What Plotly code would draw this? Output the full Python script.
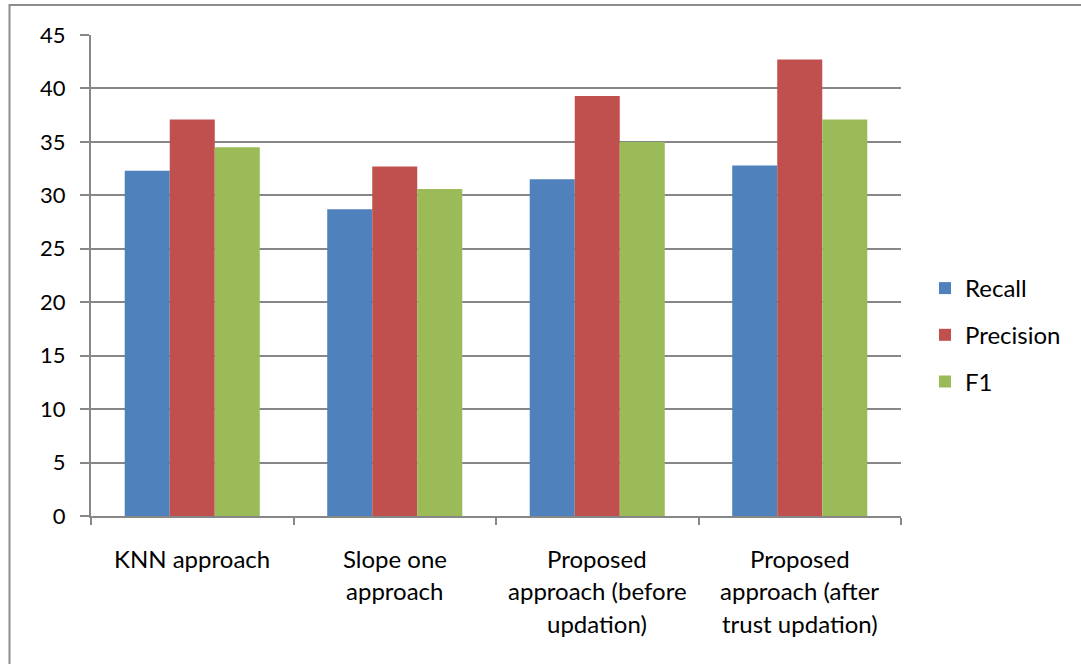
import plotly.graph_objects as go

# Evaluation results per approach
categories = [
    "KNN approach",
    "Slope one<br>approach",
    "Proposed<br>approach (before<br>updation)",
    "Proposed<br>approach (after<br>trust updation)",
]
recall = [32.3, 28.7, 31.5, 32.8]
precision = [37.1, 32.7, 39.3, 42.7]
f1 = [34.5, 30.6, 35.0, 37.1]

series = [
    ("Recall", recall, "#4F81BD"),
    ("Precision", precision, "#C0504D"),
    ("F1", f1, "#9BBB59"),
]

FONT = "Lato"
GRID = "#878787"

W, H = 1081, 664
L, R, T, B = 91, 180, 35, 148
PW, PH = W - L - R, H - T - B

fig = go.Figure()
for name, vals, color in series:
    fig.add_trace(go.Bar(
        name=name, x=categories, y=vals,
        marker=dict(color=color, line=dict(width=0)),
        legendgroup=name,
    ))

# Category labels, one annotation per text line
annotations = []
for i, label in enumerate(categories):
    for j, line in enumerate(label.split("<br>")):
        annotations.append(dict(
            x=i, y=0, xref="x", yref="y", text=line, showarrow=False,
            yanchor="middle", xanchor="center",
            yshift=-(42 + 32.5 * j),
            font=dict(family=FONT, size=24, color="#000000"),
        ))

# Outer frame around the chart area
px = lambda v: (v - L) / PW
py = lambda v: (H - B - v) / PH
shapes = [dict(
    type="rect", xref="paper", yref="paper",
    x0=px(9.5), x1=px(1100), y0=py(700), y1=py(5),
    line=dict(color="#8c8c8c", width=2), fillcolor="rgba(0,0,0,0)", layer="below",
)]

fig.update_layout(
    width=W, height=H,
    margin=dict(l=L, r=R, t=T, b=B, pad=0),
    paper_bgcolor="white", plot_bgcolor="white",
    barmode="group", bargap=0.333, bargroupgap=0,
    font=dict(family=FONT, size=24, color="#000000"),
    showlegend=True,
    legend=dict(
        x=px(925), y=py(266), xanchor="left", yanchor="top",
        font=dict(family=FONT, size=24, color="#000000"),
        tracegroupgap=12.5, traceorder="grouped",
        bgcolor="rgba(0,0,0,0)",
    ),
    annotations=annotations,
    shapes=shapes,
)
fig.update_xaxes(
    type="category",
    showticklabels=False,
    tickson="boundaries", ticks="outside", ticklen=7, tickwidth=2, tickcolor=GRID,
    showline=True, linecolor=GRID, linewidth=2,
    showgrid=False, zeroline=False,
)
fig.update_yaxes(
    range=[0, 45], dtick=5, tick0=0,
    ticks="outside", ticklen=9, tickwidth=2, tickcolor=GRID,
    showline=True, linecolor=GRID, linewidth=2,
    showgrid=True, gridcolor=GRID, gridwidth=2,
    zeroline=False,
    tickfont=dict(family=FONT, size=22, color="#000000"),
    ticklabelstandoff=10,
)

fig.write_html("out.html")
